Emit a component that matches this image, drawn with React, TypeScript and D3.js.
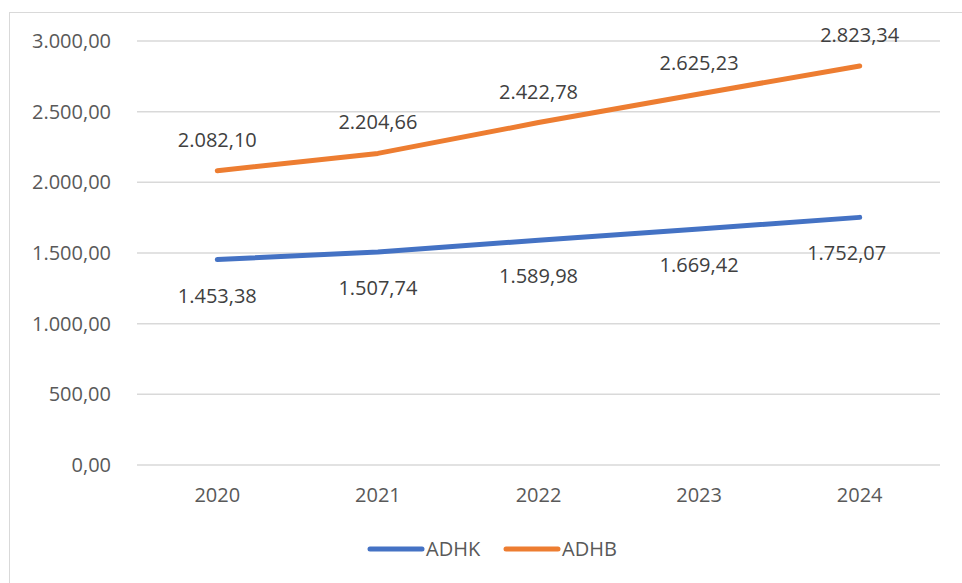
import React from "react";
import * as d3 from "d3";

// data
const years = ["2020", "2021", "2022", "2023", "2024"];
const adhk = [1453.38, 1507.74, 1589.98, 1669.42, 1752.07];
const adhb = [2082.1, 2204.66, 2422.78, 2625.23, 2823.34];
const yTicks = [0, 500, 1000, 1500, 2000, 2500, 3000];

const W = 962;
const H = 583;
const left = 137;
const right = 940;
const top = 41;
const bottom = 465;
const font = "'Open Sans', 'Liberation Sans', sans-serif";
const textColor = "#595959";
const fs = 20;

// Excel-ish number format: 2.082,10
const fmt = (v: number) => {
  const s = d3.format(",.2f")(v);
  return s.replace(/,/g, "#").replace(".", ",").replace(/#/g, ".");
};

const App = () => {
  const x = d3.scalePoint().domain(years).range([left, right]).padding(0.5);
  const y = d3.scaleLinear().domain([0, 3000]).range([bottom, top]);

  const line = d3
    .line<number>()
    .x((_, i) => x(years[i]) as number)
    .y((d) => y(d));

  const series = [
    { name: "ADHK", values: adhk, color: "#4472C4", dy: 36 },
    { name: "ADHB", values: adhb, color: "#ED7D31", dy: -31 },
  ];

  return (
    <svg
      width={W}
      height={H}
      style={{ position: "absolute", left: 0, top: 0, background: "#fff" }}
      fontFamily={font}
    >
      <rect x={9.5} y={12.5} width={W + 10} height={H + 10} fill="#fff" stroke="#d9d9d9" />
      {/* grid */}
      {yTicks.map((t) => (
        <g key={t}>
          <line x1={left} x2={right} y1={y(t)} y2={y(t)} stroke="#d9d9d9" strokeWidth={1.5} />
          <text x={111} y={y(t)} dy="0.35em" textAnchor="end" fontSize={fs} fill={textColor}>
            {fmt(t)}
          </text>
        </g>
      ))}
      {/* x labels */}
      {years.map((yr) => (
        <text key={yr} x={x(yr)} y={495} dy="0.35em" textAnchor="middle" fontSize={fs} fill={textColor}>
          {yr}
        </text>
      ))}
      {/* lines */}
      {series.map((s) => (
        <path
          key={s.name}
          d={line(s.values) || ""}
          fill="none"
          stroke={s.color}
          strokeWidth={5}
          strokeLinecap="round"
          strokeLinejoin="round"
        />
      ))}
      {/* data labels */}
      {series.map((s) =>
        s.values.map((v, i) => (
          <text
            key={s.name + i}
            x={(x(years[i]) as number) - (s.name === "ADHK" && i === 4 ? 13 : 0)}
            y={y(v) + s.dy}
            dy="0.35em"
            textAnchor="middle"
            fontSize={fs}
            fill="#404040"
          >
            {fmt(v)}
          </text>
        ))
      )}
      {/* legend */}
      {series.map((s, i) => {
        const lx = 370 + i * 136;
        return (
          <g key={s.name} transform={`translate(${lx},549)`}>
            <line x1={0} x2={52} y1={0} y2={0} stroke={s.color} strokeWidth={5} strokeLinecap="round" />
            <text x={56} y={0} dy="0.35em" fontSize={fs} fill={textColor}>
              {s.name}
            </text>
          </g>
        );
      })}
    </svg>
  );
};

export default App;
